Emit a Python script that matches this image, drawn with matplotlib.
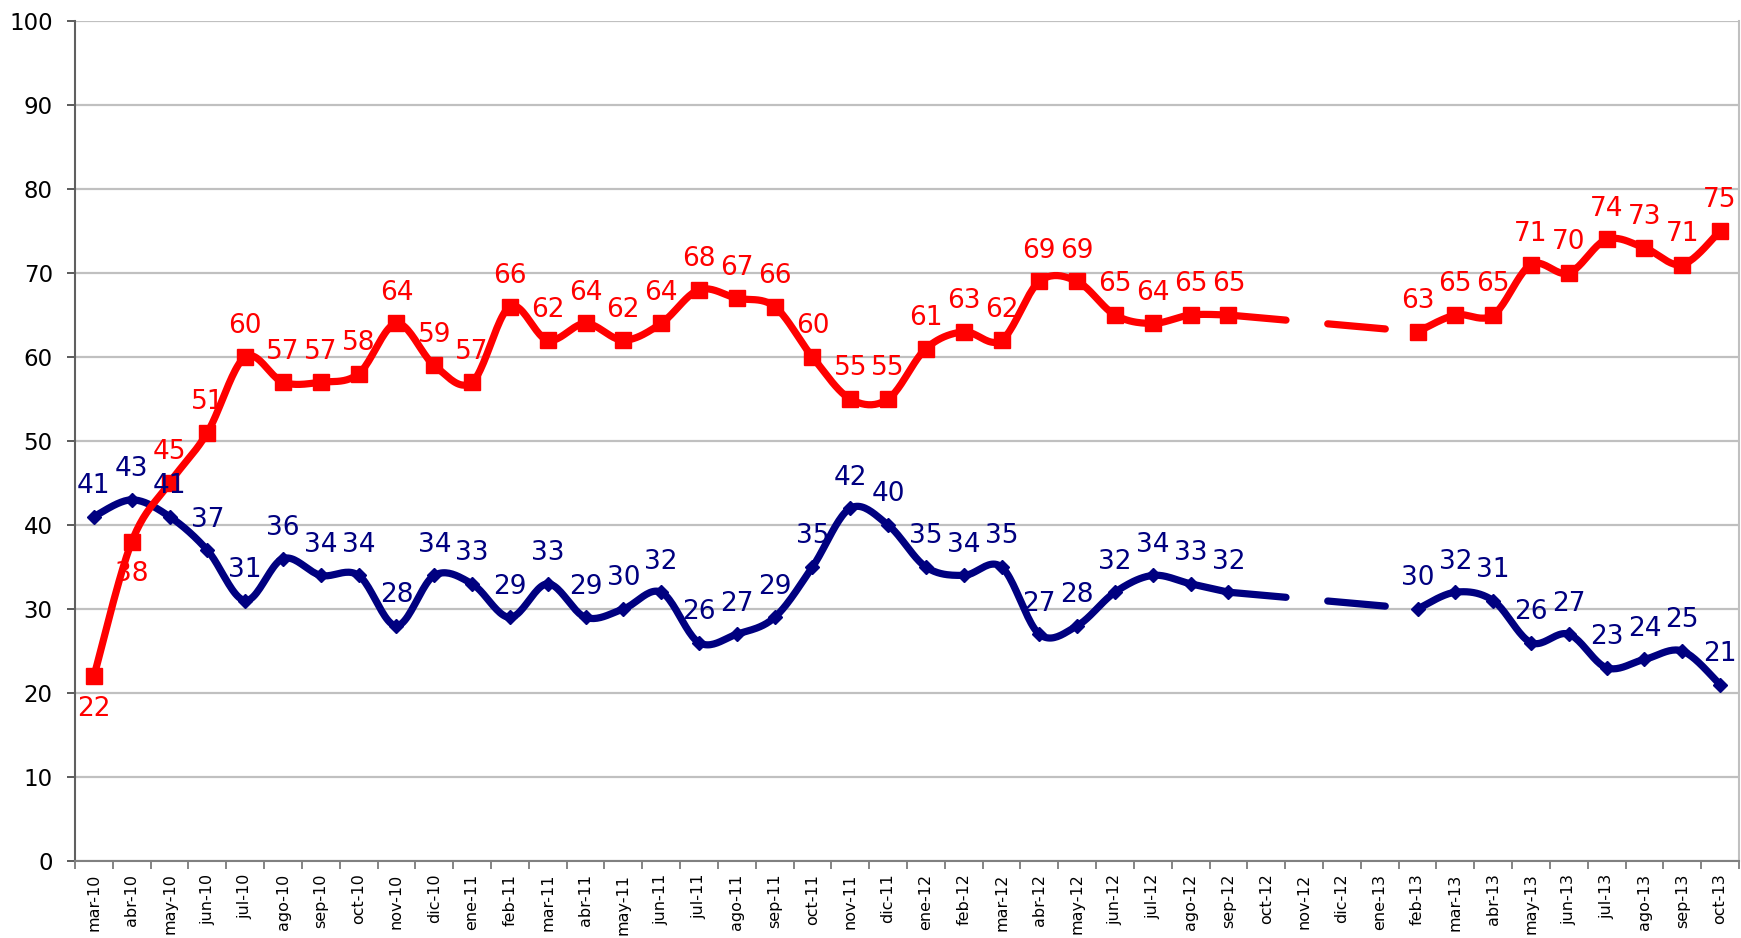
import numpy as np
import matplotlib.pyplot as plt

months = ["mar-10","abr-10","may-10","jun-10","jul-10","ago-10","sep-10","oct-10","nov-10","dic-10",
          "ene-11","feb-11","mar-11","abr-11","may-11","jun-11","jul-11","ago-11","sep-11","oct-11",
          "nov-11","dic-11","ene-12","feb-12","mar-12","abr-12","may-12","jun-12","jul-12","ago-12",
          "sep-12","oct-12","nov-12","dic-12","ene-13","feb-13","mar-13","abr-13","may-13","jun-13",
          "jul-13","ago-13","sep-13","oct-13"]

# NaN = no survey that month
red = [22,38,45,51,60,57,57,58,64,59,57,66,62,64,62,64,68,67,66,60,55,55,61,63,62,69,69,65,64,65,65,
       np.nan,np.nan,np.nan,np.nan,63,65,65,71,70,74,73,71,75]
blue = [41,43,41,37,31,36,34,34,28,34,33,29,33,29,30,32,26,27,29,35,42,40,35,34,35,27,28,32,34,33,32,
        np.nan,np.nan,np.nan,np.nan,30,32,31,26,27,23,24,25,21]
red_below = [0,1]  # labels under the point

RED="#ff0000"; NAVY="#000080"

def smooth(x, y, n=24):
    # excel style smoothed line (catmull-rom bezier)
    x=np.asarray(x,float); y=np.asarray(y,float)
    px=np.r_[x[0],x,x[-1]]; py=np.r_[y[0],y,y[-1]]
    xs=[]; ys=[]
    t=np.linspace(0,1,n)
    for i in range(1,len(px)-2):
        p0=np.array([px[i],py[i]]); p3=np.array([px[i+1],py[i+1]])
        c1=p0+(np.array([px[i+1],py[i+1]])-np.array([px[i-1],py[i-1]]))/6
        c2=p3-(np.array([px[i+2],py[i+2]])-np.array([px[i],py[i]]))/6
        b=((1-t)**3)[:,None]*p0+(3*(1-t)**2*t)[:,None]*c1+(3*(1-t)*t**2)[:,None]*c2+(t**3)[:,None]*p3
        xs.append(b[:,0]); ys.append(b[:,1])
    return np.concatenate(xs), np.concatenate(ys)

fig=plt.figure(figsize=(17.41,9.38),dpi=100,facecolor="white")
ax=fig.add_axes([75/1741,1-861/938,1664/1741,840/938])
x=np.arange(len(months))

for vals,color,marker,ms,z in [(blue,NAVY,"D",7.5,3),(red,RED,"s",12,4)]:
    v=np.array(vals,float)
    ok=~np.isnan(v)
    idx=np.where(ok)[0]
    # split into runs of consecutive data
    runs=np.split(idx,np.where(np.diff(idx)>1)[0]+1)
    for r in runs:
        sx,sy=smooth(x[r],v[r])
        ax.plot(sx,sy,color=color,lw=5.2,solid_capstyle="round",zorder=z)
    for a,b in zip(runs[:-1],runs[1:]):
        ax.plot([x[a[-1]],x[b[0]]],[v[a[-1]],v[b[0]]],color=color,lw=5.2,ls=(0,(8,5.8)),
                dash_capstyle="round",zorder=z)
    ax.plot(x[ok],v[ok],ls="none",marker=marker,ms=ms,color=color,mec=color,zorder=z+0.5)

for vals,color,below in [(blue,NAVY,[]),(red,RED,red_below)]:
    for i,val in enumerate(vals):
        if np.isnan(val):
            continue
        if i in below:
            ax.annotate(f"{val:.0f}",(i,val),xytext=(0,-14),textcoords="offset points",ha="center",va="top",
                        color=color,fontsize=19,zorder=10)
        else:
            ax.annotate(f"{val:.0f}",(i,val),xytext=(0,17),textcoords="offset points",ha="center",va="baseline",
                        color=color,fontsize=19,zorder=10)

ax.set_xlim(-0.5,len(months)-0.5)
ax.set_ylim(0,100)
ax.set_yticks(np.arange(0,101,10))
ax.grid(axis="y",color="#c0c0c0",lw=1.6,zorder=0)
ax.set_axisbelow(True)
ax.set_xticks(x)
ax.set_xticklabels(months,rotation=90,fontsize=11.5)
ax.set_xticks(np.arange(-0.5,len(months),1),minor=True)
ax.tick_params(axis="x",which="major",length=0,pad=9)
ax.tick_params(axis="x",which="minor",length=6,width=1.2,color="#707070")
ax.tick_params(axis="y",length=6,width=1.2,color="#404040",pad=10,labelsize=16.5)
ax.spines["top"].set_visible(False)
ax.spines["left"].set_color("#606060"); ax.spines["left"].set_linewidth(1.5)
ax.spines["bottom"].set_color("#808080"); ax.spines["bottom"].set_linewidth(1.5)
ax.spines["right"].set_color("#c0c0c0"); ax.spines["right"].set_linewidth(1.5)

fig.savefig("out.png",dpi=100,facecolor="white")
